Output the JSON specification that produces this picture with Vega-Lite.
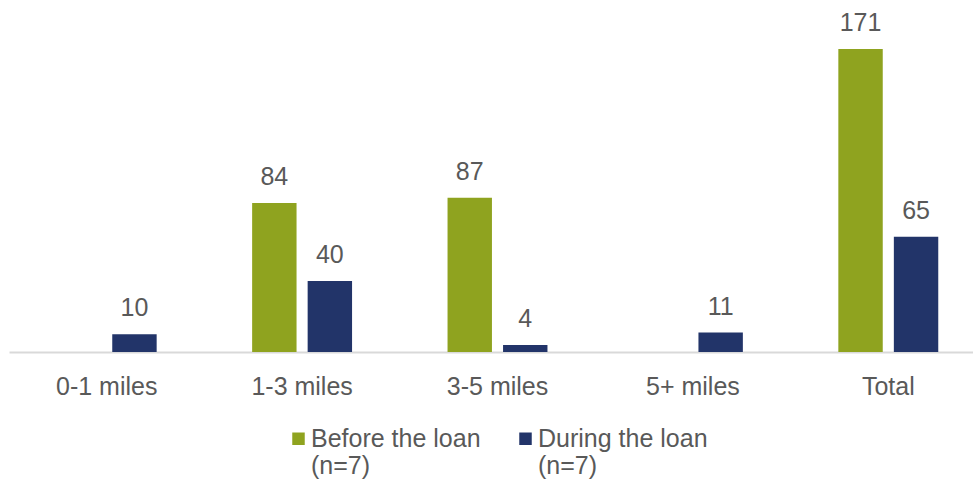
{
  "$schema": "https://vega.github.io/schema/vega-lite/v6.json",
  "width": 964,
  "height": 352,
  "autosize": {"type": "none"},
  "padding": {"left": 9, "top": 0, "right": 0, "bottom": 127},
  "config": {"view": {"stroke": null}, "font": "Liberation Sans"},
  "data": {
    "values": [
      {"distance": "0-1 miles", "period": "During the loan", "value": 10},
      {"distance": "1-3 miles", "period": "Before the loan", "value": 84},
      {"distance": "1-3 miles", "period": "During the loan", "value": 40},
      {"distance": "3-5 miles", "period": "Before the loan", "value": 87},
      {"distance": "3-5 miles", "period": "During the loan", "value": 4},
      {"distance": "5+ miles", "period": "During the loan", "value": 11},
      {"distance": "Total", "period": "Before the loan", "value": 171},
      {"distance": "Total", "period": "During the loan", "value": 65}
    ]
  },
  "encoding": {
    "x": {
      "field": "distance",
      "type": "nominal",
      "sort": ["0-1 miles", "1-3 miles", "3-5 miles", "5+ miles", "Total"],
      "scale": {"range": [0, 977], "paddingInner": 0, "paddingOuter": 0},
      "axis": {
        "title": null,
        "labelAngle": 0,
        "ticks": false,
        "domainColor": "#d9d9d9",
        "domainWidth": 2,
        "labelFontSize": 25,
        "labelColor": "#595959",
        "labelPadding": 22,
        "grid": false
      }
    },
    "xOffset": {
      "field": "period",
      "type": "nominal",
      "sort": ["Before the loan", "During the loan"],
      "scale": {"paddingInner": 0.2, "paddingOuter": 0.86}
    },
    "y": {
      "field": "value",
      "type": "quantitative",
      "scale": {"domain": [0, 198.6], "nice": false},
      "axis": null
    }
  },
  "layer": [
    {
      "mark": {"type": "bar"},
      "encoding": {
        "color": {
          "field": "period",
          "type": "nominal",
          "scale": {"domain": ["Before the loan", "During the loan"], "range": ["#8FA31F", "#223469"]},
          "legend": {
            "title": null,
            "orient": "none",
            "direction": "horizontal",
            "legendX": 277,
            "legendY": 426,
            "padding": 0,
            "symbolType": "square",
            "symbolSize": 156,
            "symbolStrokeWidth": 0,
            "labelFontSize": 25,
            "labelColor": "#595959",
            "labelBaseline": "middle",
            "labelOffset": 0,
            "labelExpr": "[datum.label, '(n=7)']",
            "labelLimit": 400,
            "columnPadding": 32
          }
        }
      }
    },
    {
      "mark": {"type": "text", "dy": -18, "baseline": "alphabetic", "fontSize": 25, "color": "#595959"},
      "encoding": {"text": {"field": "value", "type": "quantitative"}}
    }
  ]
}
